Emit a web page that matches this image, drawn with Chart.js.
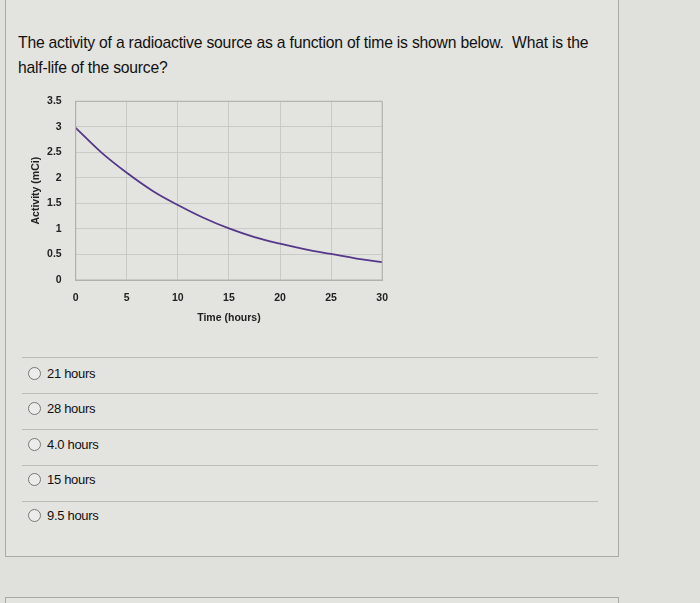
<!DOCTYPE html>
<html>
<head>
<meta charset="utf-8">
<script src="https://cdn.jsdelivr.net/npm/chart.js@4"></script>
<style>
  body { margin: 0; width: 700px; height: 603px; background: #e0e0dc; font-family: "Liberation Sans", Arial, sans-serif; position: relative; overflow: hidden; }
  .box { position: absolute; left: 5px; top: -10px; width: 612px; height: 565px; border: 1px solid #a9a9a6; background: #e3e3df; }
  .box2 { position: absolute; left: 5px; top: 597px; width: 612px; height: 30px; border: 1px solid #a9a9a6; background: #e3e3df; }
  .q { position: absolute; left: 18px; top: 30px; font-size: 15.7px; line-height: 25px; color: #111; letter-spacing: -0.2px; }
  .chartwrap { position: absolute; left: 20px; top: 81px; width: 380px; height: 247px; }
  .sep { position: absolute; left: 22px; width: 576px; height: 1px; background: #bcbcb8; }
  .opt { position: absolute; left: 28px; font-size: 13px; color: #111; letter-spacing: -0.3px; }
  .opt span.r { display: inline-block; width: 11px; height: 11px; border: 1px solid #777; border-radius: 50%; vertical-align: -2px; margin-right: 6px; background: #ececea; }
</style>
</head>
<body>
<div class="box"></div>
<div class="box2"></div>
<div class="q">The activity of a radioactive source as a function of time is shown below.&nbsp; What is the<br>half-life of the source?</div>
<div class="chartwrap"><canvas id="decayChart" width="380" height="247"></canvas></div>
<div class="sep" style="top:357px"></div>
<div class="sep" style="top:393px"></div>
<div class="sep" style="top:429px"></div>
<div class="sep" style="top:465px"></div>
<div class="sep" style="top:501px"></div>
<div id="options"></div>
<script>
// values
var timeHours = [0, 2.5, 5, 7.5, 10, 12.5, 15, 17.5, 20, 22.5, 25, 27.5, 30];
var activity = [2.98, 2.5, 2.1, 1.75, 1.47, 1.22, 1.01, 0.84, 0.71, 0.6, 0.51, 0.42, 0.35];
var answers = ["21 hours", "28 hours", "4.0 hours", "15 hours", "9.5 hours"];
var answerTops = [366, 401, 437, 472, 508];

var opts = document.getElementById("options");
answers.forEach(function (a, i) {
  var d = document.createElement("div");
  d.className = "opt";
  d.style.top = answerTops[i] + "px";
  d.innerHTML = '<span class="r"></span>' + a;
  opts.appendChild(d);
});

var points = timeHours.map(function (t, i) { return { x: t, y: activity[i] }; });
var tickFont = { family: "Liberation Sans", size: 10.5, weight: "bold" };

var ctx = document.getElementById("decayChart").getContext("2d");
new Chart(ctx, {
  type: "line",
  data: {
    datasets: [{
      data: points,
      borderColor: "#55388a",
      borderWidth: 1.8,
      pointRadius: 0,
      tension: 0.4,
      fill: false
    }]
  },
  options: {
    responsive: false,
    animation: false,
    layout: { padding: 0 },
    plugins: { legend: { display: false }, tooltip: { enabled: false } },
    scales: {
      x: {
        type: "linear",
        min: 0,
        max: 30,
        ticks: { stepSize: 5, padding: 12, color: "#222", font: tickFont },
        grid: { color: "#c9c9c6", drawTicks: false },
        border: { color: "#b0b0ac" },
        title: { display: true, text: "Time (hours)", color: "#222", padding: { top: 2 }, font: tickFont },
        afterFit: function (s) { s.height = 48; }
      },
      y: {
        min: 0,
        max: 3.5,
        ticks: { stepSize: 0.5, padding: 14, color: "#222", font: tickFont, callback: function (v) { return String(v); } },
        grid: { color: "#c9c9c6", drawTicks: false },
        border: { color: "#b0b0ac" },
        title: { display: true, text: "Activity (mCi)", color: "#222", padding: { top: 10, bottom: 0 }, font: tickFont },
        afterFit: function (s) { s.width = 55.7; }
      }
    }
  },
  plugins: [{
    id: "plotBorder",
    afterDraw: function (chart) {
      var a = chart.chartArea, c = chart.ctx;
      c.save();
      c.strokeStyle = "#b0b0ac";
      c.lineWidth = 1;
      c.strokeRect(a.left, a.top, a.right - a.left, a.bottom - a.top);
      c.restore();
    }
  }]
});
</script>
</body>
</html>
